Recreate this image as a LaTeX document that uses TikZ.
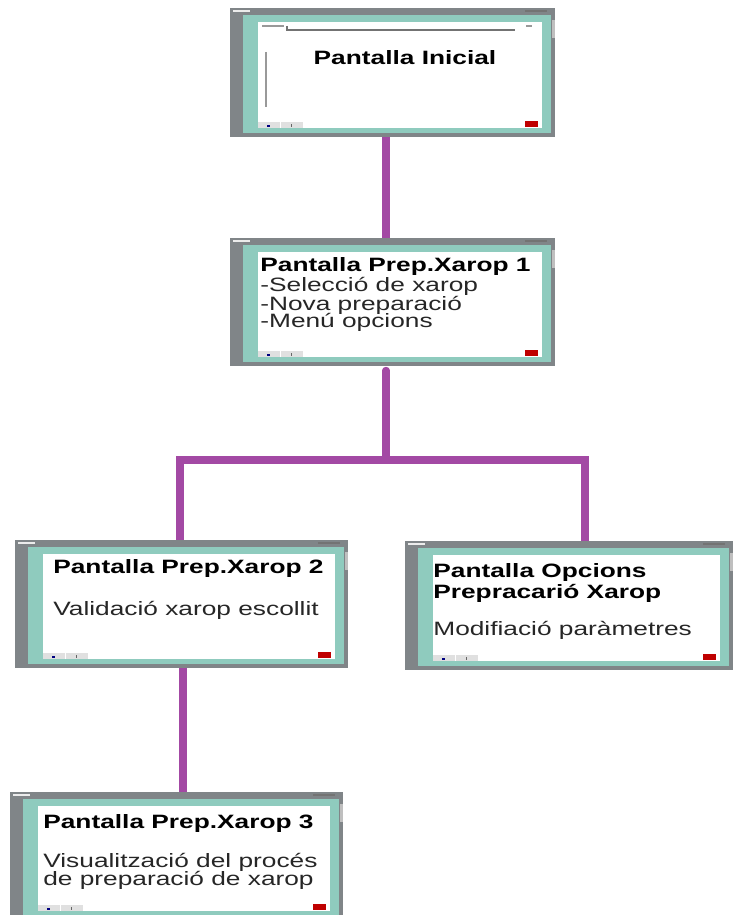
\documentclass[tikz,border=0pt]{standalone}
\usepackage{fontspec}
\newfontfamily\hmifont[FakeStretch=1.36]{Liberation Sans}
\usetikzlibrary{calc}
\definecolor{hmigray}{HTML}{808588}
\definecolor{hmiteal}{HTML}{8FCBBE}
\definecolor{linkpurple}{HTML}{A349A4}
\tikzstyle{screen_frame} = [rectangle, fill=hmigray, inner sep=0pt]
\tikzstyle{edge_link} = [linkpurple, line width=4pt]
\tikzstyle{text_title} = [inner sep=0pt, anchor=base west, font=\hmifont\fontsize{11}{12}\selectfont\bfseries]
\tikzstyle{text_body} = [inner sep=0pt, anchor=base west, text=black!85, font=\hmifont\fontsize{11}{12}\selectfont]
% teal border, white panel and buttons of one HMI screen
\newcommand{\screenparts}[1]{%
\fill[hmiteal] ($(#1.north west)+(13,7)$) rectangle ($(#1.south east)+(-4,-4)$);
\fill[white] ($(#1.north west)+(28,14)$) rectangle ($(#1.south east)+(-13,-9)$);
\fill[black!12] ($(#1.south west)+(28,-15)$) rectangle ($(#1.south west)+(50,-9)$);
\fill[black!12] ($(#1.south west)+(51,-15)$) rectangle ($(#1.south west)+(73,-9)$);
\fill[blue!50!black] ($(#1.south west)+(37,-12)$) rectangle ($(#1.south west)+(40,-10)$);
\fill[black!60] ($(#1.south west)+(61,-13)$) rectangle ($(#1.south west)+(62,-10)$);
\fill[red!75!black] ($(#1.south east)+(-30,-16)$) rectangle ($(#1.south east)+(-17,-10)$);
\fill[white!85!gray] ($(#1.north west)+(3,2)$) rectangle ($(#1.north west)+(20,4)$);
\fill[black!55] ($(#1.north east)+(-30,2)$) rectangle ($(#1.north east)+(-8,4)$);
\fill[black!25] ($(#1.north east)+(-3,12)$) rectangle ($(#1.north east)+(0,30)$);
}

\begin{document}
\begin{tikzpicture}[x=0.02cm,y=-0.02cm]
\useasboundingbox (0,0) rectangle (733,915);

\node (ini) at (392.5,72.5) [screen_frame, minimum width=6.5cm, minimum height=2.58cm] {};
\node (prep1) at (392.5,302) [screen_frame, minimum width=6.5cm, minimum height=2.56cm] {};
\node (prep2) at (181.5,604) [screen_frame, minimum width=6.66cm, minimum height=2.56cm] {};
\node (opc) at (569,605.5) [screen_frame, minimum width=6.56cm, minimum height=2.58cm] {};
\node (prep3) at (176.5,856) [screen_frame, minimum width=6.66cm, minimum height=2.56cm] {};

\screenparts{ini}
\screenparts{prep1}
\screenparts{prep2}
\screenparts{opc}
\screenparts{prep3}

% details of the start screen
\draw[black!55, line width=0.6pt] (287,26) -- (287,30) -- (515,30);
\draw[black!40, line width=0.6pt] (266,52) -- (266,107);
\fill[black!40] (262,25) rectangle (284,27);
\fill[black!40] (526,25) rectangle (532,27);

\node (t_ini) at (405,65) [text_title, anchor=base] {Pantalla Inicial};

\node (t_p1) at (260,272) [text_title] {Pantalla Prep.Xarop 1};
\node (b_p1a) at (260,292) [text_body] {-Selecció de xarop};
\node (b_p1b) at (260,310) [text_body] {-Nova preparació};
\node (b_p1c) at (260,327) [text_body] {-Menú opcions};

\node (t_p2) at (53,573) [text_title] {Pantalla Prep.Xarop 2};
\node (b_p2) at (53,615) [text_body] {Validació xarop escollit};

\node (t_opa) at (433,577) [text_title] {Pantalla Opcions};
\node (t_opb) at (433,598) [text_title] {Prepracarió Xarop};
\node (b_op) at (433,635) [text_body] {Modifiació paràmetres};

\node (t_p3) at (43,828) [text_title] {Pantalla Prep.Xarop 3};
\node (b_p3a) at (43,867) [text_body] {Visualització del procés};
\node (b_p3b) at (43,885) [text_body] {de preparació de xarop};

\coordinate (mid) at (386,0);
\coordinate (hub) at (386,460);
\coordinate (bl) at (180,460);
\coordinate (br) at (585,460);
\coordinate (low) at (183,0);

\draw[edge_link] (ini.south -| mid) -- (prep1.north -| mid);
\draw[edge_link, line cap=round] ($(prep1.south -| mid)+(0,4)$) -- (hub);
\draw[edge_link] (prep2.north -| bl) -- (bl) -- (br) -- (opc.north -| br);
\draw[edge_link] (prep2.south -| low) -- (prep3.north -| low);
\end{tikzpicture}
\end{document}
